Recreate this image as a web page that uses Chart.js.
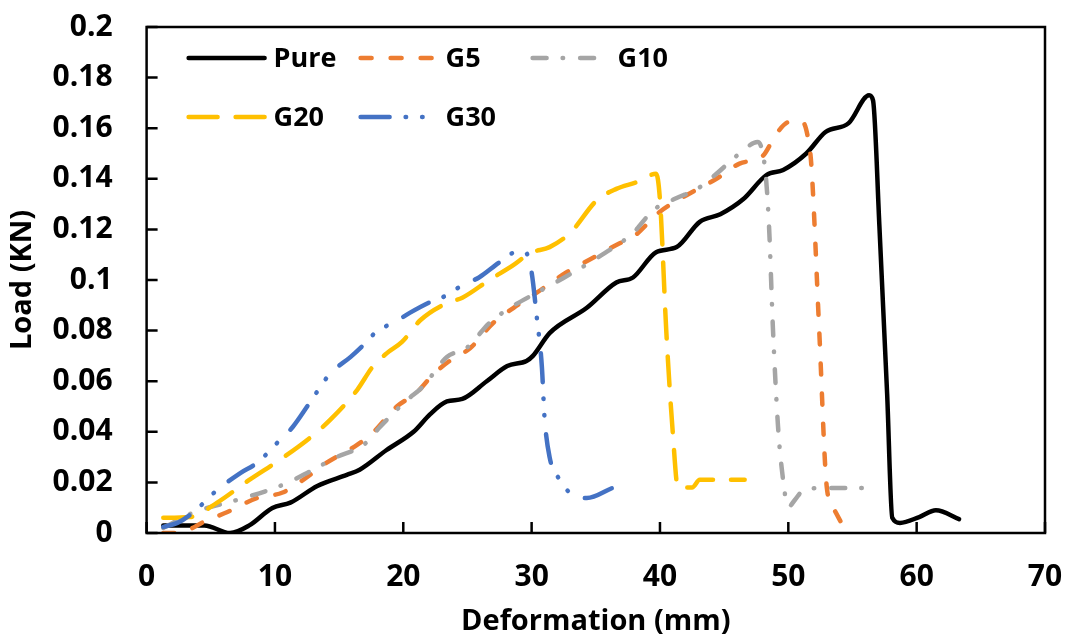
<!DOCTYPE html>
<html>
<head>
<meta charset="utf-8">
<script src="https://cdn.jsdelivr.net/npm/chart.js@4.4.0/dist/chart.umd.min.js"></script>
<style>
  html, body { margin: 0; padding: 0; background: #fff; }
  #chart { display: block; }
</style>
</head>
<body>
<canvas id="chart" width="1067" height="641"></canvas>
<script>
// values
const seriesNames = ['Pure', 'G5', 'G10', 'G20', 'G30'];

const pureX = [1.3, 4.5, 6.5, 8.0, 9.8, 11.2, 13.3, 15.6, 16.6, 18.7, 20.8, 22.1, 23.4, 24.6, 26.5, 28.1, 29.6, 30.1, 31.4, 34.3, 36.6, 37.9, 39.7, 41.3, 43.1, 44.7, 46.5, 48.3, 49.6, 51.4, 52.9, 54.7, 56.3, 56.6, 57.1, 57.7, 58.1, 58.7, 60.2, 61.5, 63.3];
const pureY = [0.003, 0.003, 0, 0.003, 0.0099, 0.012, 0.0186, 0.023, 0.025, 0.0328, 0.040, 0.047, 0.052, 0.053, 0.060, 0.066, 0.068, 0.070, 0.079, 0.089, 0.099, 0.101, 0.111, 0.113, 0.123, 0.126, 0.132, 0.1415, 0.1435, 0.150, 0.1585, 0.162, 0.173, 0.171, 0.121, 0.055, 0.006, 0.004, 0.0063, 0.009, 0.0055];

const g5X = [1.3, 2.4, 4.7, 6.3, 8.6, 10.6, 12.2, 14.0, 16.4, 17.6, 19.5, 21.0, 22.3, 23.6, 25.2, 27.0, 28.6, 30.4, 32.7, 34.5, 36.9, 37.9, 40.0, 42.1, 44.4, 46.2, 48.0, 49.1, 50.1, 51.1, 51.5, 51.8, 52.4, 53.0, 53.6, 54.1];
const g5Y = [0, 0, 0.005, 0.0083, 0.0138, 0.016, 0.021, 0.0277, 0.0348, 0.0395, 0.050, 0.0553, 0.0625, 0.068, 0.073, 0.083, 0.089, 0.095, 0.103, 0.108, 0.1146, 0.117, 0.127, 0.1336, 0.140, 0.146, 0.149, 0.158, 0.1625, 0.1625, 0.157, 0.145, 0.081, 0.018, 0.009, 0.0043];

const g10X = [1.3, 3.6, 7.0, 10.4, 12.5, 14.8, 16.9, 18.2, 20.3, 21.5, 23.4, 24.9, 26.7, 28.0, 30.4, 32.2, 35.1, 37.9, 39.5, 41.3, 42.9, 44.4, 46.2, 47.6, 48.2, 48.5, 48.8, 49.2, 49.5, 50.0, 50.5, 51.2, 52.9, 56.6];
const g10Y = [0.002, 0.008, 0.013, 0.0186, 0.0237, 0.030, 0.0348, 0.042, 0.0526, 0.0577, 0.0696, 0.073, 0.083, 0.088, 0.095, 0.100, 0.1087, 0.1186, 0.1277, 0.1324, 0.136, 0.142, 0.150, 0.1545, 0.1435, 0.121, 0.081, 0.042, 0.025, 0.0103, 0.013, 0.017, 0.0178, 0.0178];

const g20X = [1.3, 3.4, 5.5, 8.0, 10.4, 12.7, 14.3, 16.4, 17.6, 18.7, 19.9, 21.3, 23.4, 24.6, 26.7, 28.6, 29.9, 31.4, 33.0, 35.1, 36.6, 38.2, 39.7, 40.0, 40.5, 41.0, 41.4, 42.5, 43.1, 44.7, 46.6];
const g20Y = [0.006, 0.0063, 0.012, 0.021, 0.029, 0.0375, 0.0447, 0.0565, 0.0656, 0.071, 0.0755, 0.084, 0.0909, 0.093, 0.100, 0.106, 0.1107, 0.113, 0.1186, 0.1316, 0.136, 0.1387, 0.142, 0.1316, 0.079, 0.0395, 0.018, 0.018, 0.021, 0.021, 0.021];

const g30X = [1.3, 2.4, 3.6, 5.5, 7.3, 8.6, 10.4, 11.4, 12.7, 14.3, 15.9, 16.9, 18.0, 19.2, 20.5, 22.1, 23.4, 24.6, 25.9, 27.5, 28.8, 29.5, 30.0, 30.4, 30.8, 31.0, 31.4, 32.2, 33.0, 34.3, 36.3];
const g30Y = [0.0024, 0.004, 0.008, 0.017, 0.0237, 0.0277, 0.0368, 0.042, 0.0514, 0.063, 0.0696, 0.0743, 0.080, 0.083, 0.087, 0.0913, 0.094, 0.098, 0.101, 0.107, 0.111, 0.111, 0.103, 0.0854, 0.0656, 0.046, 0.030, 0.021, 0.0158, 0.0138, 0.0178];

const xTickValues = [0, 10, 20, 30, 40, 50, 60, 70];
const xTickLabels = ['0', '10', '20', '30', '40', '50', '60', '70'];
const yTickValues = [0, 0.02, 0.04, 0.06, 0.08, 0.1, 0.12, 0.14, 0.16, 0.18, 0.2];
const yTickLabels = ['0', '0.02', '0.04', '0.06', '0.08', '0.1', '0.12', '0.14', '0.16', '0.18', '0.2'];

const FONT = "'Open Sans', 'Noto Sans', sans-serif";

function toPoints(xs, ys) {
    return xs.map((x, i) => ({ x: x, y: ys[i] }));
}

const styles = [
    { color: '#000000', dash: [] },
    { color: '#ED7D31', dash: [11, 19] },
    { color: '#A5A5A5', dash: [14, 16, 0.5, 17] },
    { color: '#FFC000', dash: [29, 18] },
    { color: '#4472C4', dash: [29, 16, 0.5, 16, 0.5, 19] }
];

const allX = [pureX, g5X, g10X, g20X, g30X];
const allY = [pureY, g5Y, g10Y, g20Y, g30Y];

const datasets = seriesNames.map((name, i) => ({
    label: name,
    data: toPoints(allX[i], allY[i]),
    borderColor: styles[i].color,
    backgroundColor: styles[i].color,
    borderDash: styles[i].dash,
    borderWidth: 4.5,
    borderCapStyle: 'round',
    borderJoinStyle: 'round',
    pointRadius: 0,
    fill: false,
    cubicInterpolationMode: 'monotone',
    order: seriesNames.length - i // later series on top, like Excel
}));

// box around plot area + inward tick marks
const frame = {
    id: 'frame',
    afterDraw(chart) {
        const ctx = chart.ctx;
        const a = chart.chartArea;
        const xs = chart.scales.x, ys = chart.scales.y;
        ctx.save();
        ctx.strokeStyle = '#000';
        ctx.lineWidth = 2.5;
        ctx.strokeRect(a.left, a.top, a.right - a.left, a.bottom - a.top);
        ctx.beginPath();
        xTickValues.forEach(v => {
            const px = xs.getPixelForValue(v);
            ctx.moveTo(px, a.bottom);
            ctx.lineTo(px, a.bottom - 11);
        });
        yTickValues.forEach(v => {
            const py = ys.getPixelForValue(v);
            ctx.moveTo(a.left, py);
            ctx.lineTo(a.left + 11, py);
        });
        ctx.stroke();
        ctx.restore();
    }
};

// legend inside plot, two rows like the original
const insideLegend = {
    id: 'insideLegend',
    afterDraw(chart) {
        const ctx = chart.ctx;
        const a = chart.chartArea;
        const slots = [[0, 0], [1, 0], [2, 0], [0, 1], [1, 1]];
        ctx.save();
        ctx.font = 'bold 27px ' + FONT;
        ctx.textBaseline = 'middle';
        ctx.fillStyle = '#000';
        chart.data.datasets.forEach((ds, i) => {
            const x0 = a.left + 40 + slots[i][0] * 172;
            const y0 = a.top + 31 + slots[i][1] * 59;
            ctx.beginPath();
            ctx.strokeStyle = ds.borderColor;
            ctx.lineWidth = ds.borderWidth;
            ctx.lineCap = 'round';
            ctx.setLineDash(ds.borderDash);
            ctx.moveTo(x0 + 2, y0);
            ctx.lineTo(x0 + 78, y0);
            ctx.stroke();
            ctx.setLineDash([]);
            ctx.fillText(ds.label, x0 + 87, y0 + 1);
        });
        ctx.restore();
    }
};

const ctx = document.getElementById('chart').getContext('2d');
new Chart(ctx, {
    type: 'line',
    data: { datasets: datasets },
    options: {
        responsive: false,
        animation: false,
        devicePixelRatio: 1,
        layout: { padding: { top: 27, right: 22, left: 0, bottom: 0 } },
        plugins: {
            legend: { display: false },
            tooltip: { enabled: false }
        },
        scales: {
            x: {
                type: 'linear',
                min: 0,
                max: 70,
                grid: { display: false, drawTicks: false },
                border: { display: false },
                afterBuildTicks: s => { s.ticks = xTickValues.map(v => ({ value: v })); },
                afterFit: s => { s.height = 108; s.paddingLeft = 0; s.paddingRight = 0; },
                ticks: {
                    color: '#000',
                    padding: 26,
                    font: { family: FONT, size: 30, weight: 'bold' },
                    callback: (v, i) => xTickLabels[i]
                },
                title: {
                    display: true,
                    text: 'Deformation (mm)',
                    color: '#000',
                    font: { family: FONT, size: 29, weight: 'bold' },
                    padding: { top: 0, bottom: 2 }
                }
            },
            y: {
                min: 0,
                max: 0.2,
                grid: { display: false, drawTicks: false },
                border: { display: false },
                afterBuildTicks: s => { s.ticks = yTickValues.map(v => ({ value: v })); },
                afterFit: s => { s.width = 146.6; s.paddingTop = 0; s.paddingBottom = 0; },
                ticks: {
                    color: '#000',
                    padding: 34,
                    font: { family: FONT, size: 30, weight: 'bold' },
                    callback: (v, i) => yTickLabels[i]
                },
                title: {
                    display: true,
                    text: 'Load (KN)',
                    color: '#000',
                    font: { family: FONT, size: 29, weight: 'bold' },
                    padding: { top: 5, bottom: 0 }
                }
            }
        }
    },
    plugins: [frame, insideLegend]
});
</script>
</body>
</html>
